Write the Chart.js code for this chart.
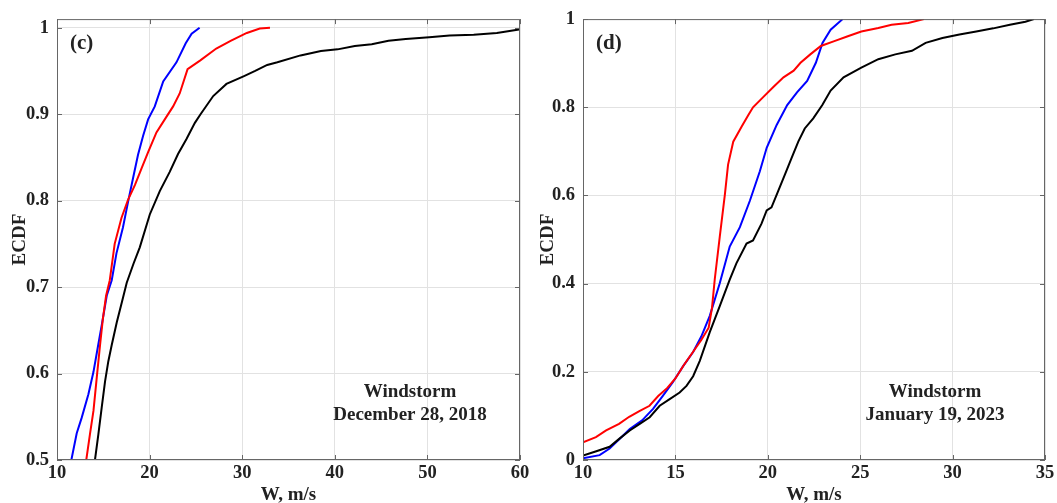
<!DOCTYPE html>
<html>
<head>
<meta charset="utf-8">
<script src="https://cdn.jsdelivr.net/npm/chart.js@4.4.0/dist/chart.umd.min.js"></script>
<style>
  body { margin: 0; background: #fff; }
  #wrap { position: relative; width: 1057px; height: 503px; overflow: hidden; }
  canvas { position: absolute; top: 0; }
  #chart-c { left: 0; }
  #chart-d { left: 527px; }
</style>
</head>
<body>
<div id="wrap">
  <canvas id="chart-c" width="560" height="503"></canvas>
  <canvas id="chart-d" width="530" height="503"></canvas>
</div>
<script>
// Panel (c): windstorm of December 28, 2018
const cTicksX = [10, 20, 30, 40, 50, 60];
const cTicksY = [0.5, 0.6, 0.7, 0.8, 0.9, 1];
const cBlueW = [11.55, 12.13, 12.67, 13.39, 13.94, 14.45, 14.85, 15.37, 15.91, 16.42, 17.12, 17.7, 18.21, 18.75, 19.3, 19.84, 20.56, 21.47, 22.9, 23.9, 24.54, 25.4];
const cBlueF = [0.5, 0.531, 0.549, 0.576, 0.602, 0.633, 0.657, 0.69, 0.708, 0.739, 0.769, 0.8, 0.826, 0.853, 0.875, 0.894, 0.909, 0.938, 0.96, 0.982, 0.993, 1.0];
const cRedW = [13.16, 13.56, 13.94, 14.29, 14.65, 14.95, 15.3, 15.7, 16.23, 16.96, 17.67, 18.41, 19.12, 19.84, 20.74, 21.64, 22.54, 23.25, 24.1, 25.44, 27.2, 28.8, 30.5, 31.9, 33.0];
const cRedF = [0.5, 0.53, 0.557, 0.595, 0.633, 0.663, 0.69, 0.708, 0.75, 0.78, 0.801, 0.818, 0.837, 0.856, 0.879, 0.894, 0.909, 0.924, 0.952, 0.962, 0.976, 0.985, 0.994, 0.999, 1.0];
const cBlackW = [14.1, 14.47, 14.83, 15.19, 15.54, 15.91, 16.45, 16.99, 17.53, 18.26, 18.94, 20.02, 21.1, 22.16, 23.07, 23.97, 24.89, 25.5, 26.87, 28.3, 30.2, 31.4, 32.7, 33.8, 36.3, 38.5, 40.3, 42.16, 43.99, 45.8, 47.66, 50.2, 52.4, 55, 57.5, 59.9];
const cBlackF = [0.5, 0.53, 0.561, 0.591, 0.614, 0.633, 0.659, 0.682, 0.705, 0.727, 0.746, 0.784, 0.811, 0.833, 0.854, 0.871, 0.89, 0.9, 0.921, 0.935, 0.944, 0.95, 0.957, 0.96, 0.968, 0.973, 0.975, 0.979, 0.981, 0.985, 0.987, 0.989, 0.991, 0.992, 0.994, 0.998];

// Panel (d): windstorm of January 19, 2023
const dTicksX = [10, 15, 20, 25, 30, 35];
const dTicksY = [0, 0.2, 0.4, 0.6, 0.8, 1];
const dRedW = [10, 10.7, 11.25, 11.95, 12.5, 13.05, 13.6, 14.07, 14.55, 15.0, 15.45, 15.95, 16.4, 16.8, 16.98, 17.13, 17.4, 17.68, 17.85, 18.13, 18.58, 18.94, 19.2, 19.75, 20.3, 20.85, 21.4, 21.77, 22.3, 22.87, 23.6, 24.33, 25.06, 25.98, 26.7, 27.6, 28.45];
const dRedF = [0.04, 0.052, 0.067, 0.082, 0.098, 0.111, 0.123, 0.145, 0.163, 0.185, 0.215, 0.245, 0.272, 0.3, 0.345, 0.41, 0.506, 0.603, 0.67, 0.722, 0.756, 0.782, 0.8, 0.823, 0.846, 0.868, 0.883, 0.901, 0.92, 0.939, 0.95, 0.961, 0.972, 0.98, 0.987, 0.991, 1.0];
const dBlueW = [10, 10.9, 11.44, 11.99, 12.53, 13.2, 13.79, 14.33, 14.87, 15.42, 15.96, 16.4, 16.86, 17.4, 17.94, 18.49, 19.03, 19.57, 19.94, 20.48, 21.05, 21.58, 22.13, 22.6, 22.96, 23.4, 24.05];
const dBlueF = [0.004, 0.011, 0.026, 0.048, 0.07, 0.09, 0.116, 0.146, 0.177, 0.213, 0.245, 0.28, 0.327, 0.401, 0.484, 0.528, 0.588, 0.655, 0.708, 0.76, 0.805, 0.834, 0.86, 0.901, 0.946, 0.976, 1.0];
const dBlackW = [10, 10.72, 11.44, 11.99, 12.53, 13.07, 13.61, 14.15, 14.69, 15.23, 15.6, 15.96, 16.32, 16.86, 17.4, 17.94, 18.3, 18.85, 19.2, 19.66, 19.94, 20.2, 20.56, 20.93, 21.29, 21.65, 22.0, 22.46, 22.95, 23.4, 24.1, 25.06, 25.98, 26.9, 27.8, 28.54, 29.45, 30.37, 31.28, 32.2, 33.1, 33.94, 34.4];
const dBlackF = [0.01, 0.02, 0.03, 0.049, 0.067, 0.082, 0.097, 0.123, 0.138, 0.153, 0.168, 0.19, 0.225, 0.29, 0.349, 0.409, 0.446, 0.491, 0.498, 0.536, 0.566, 0.573, 0.61, 0.648, 0.685, 0.722, 0.752, 0.775, 0.805, 0.838, 0.868, 0.89, 0.909, 0.92, 0.928, 0.946, 0.957, 0.965, 0.972, 0.979, 0.987, 0.994, 1.0];

const SERIF = '"Liberation Serif", "Times New Roman", serif';
const TXT = '#222';

function pts(w, f) {
  return w.map((x, i) => ({ x: x, y: f[i] }));
}
function line(w, f, color) {
  return { data: pts(w, f), borderColor: color, borderWidth: 2, pointRadius: 0, tension: 0, fill: false };
}

// box, inward tick marks, panel letter and note (MATLAB look)
const framePlugin = {
  id: 'frame',
  afterDatasetsDraw(chart, args, opts) {
    const { ctx, chartArea: a, scales } = chart;
    ctx.save();
    ctx.strokeStyle = '#666';
    ctx.lineWidth = 1;
    ctx.strokeRect(a.left + 0.5, a.top + 0.5, a.right - a.left - 1, a.bottom - a.top - 1);
    ctx.beginPath();
    scales.x.ticks.forEach(t => {
      const x = Math.round(scales.x.getPixelForValue(t.value)) + 0.5;
      ctx.moveTo(x, a.bottom); ctx.lineTo(x, a.bottom - 5);
      ctx.moveTo(x, a.top); ctx.lineTo(x, a.top + 5);
    });
    scales.y.ticks.forEach(t => {
      const y = Math.round(scales.y.getPixelForValue(t.value)) + 0.5;
      ctx.moveTo(a.left, y); ctx.lineTo(a.left + 5, y);
      ctx.moveTo(a.right, y); ctx.lineTo(a.right - 5, y);
    });
    ctx.stroke();
    ctx.fillStyle = TXT;
    ctx.textBaseline = 'middle';
    ctx.textAlign = 'left';
    ctx.font = 'bold 21px ' + SERIF;
    ctx.fillText(opts.letter, a.left + 13, a.top + 24);
    ctx.textAlign = 'center';
    ctx.font = 'bold 19px ' + SERIF;
    ctx.fillText(opts.note[0], a.right - opts.noteDx, 392);
    ctx.fillText(opts.note[1], a.right - opts.noteDx, 415);
    ctx.restore();
  }
};

function makeChart(id, datasets, xr, yr, ticksX, ticksY, yw, padRight, titlePad, frame) {
  return new Chart(document.getElementById(id), {
    type: 'line',
    data: { datasets: datasets },
    plugins: [framePlugin],
    options: {
      responsive: false,
      animation: false,
      devicePixelRatio: 1,
      layout: { padding: { top: 13, right: padRight, left: 0, bottom: 0 } },
      plugins: { legend: { display: false }, tooltip: { enabled: false }, frame: frame },
      scales: {
        x: {
          type: 'linear', min: xr[0], max: xr[1],
          afterBuildTicks: s => { s.ticks = ticksX.map(v => ({ value: v })); },
          afterFit: s => { s.height = 43; },
          grid: { color: '#e2e2e2', drawTicks: false },
          border: { display: false },
          ticks: { padding: 2, color: TXT, font: { family: SERIF, size: 18.5, weight: 'bold' }, maxRotation: 0 },
          title: { display: true, text: 'W, m/s', color: TXT, padding: 0, font: { family: SERIF, size: 19, weight: 'bold', lineHeight: 0.8 } }
        },
        y: {
          type: 'linear', min: yr[0], max: yr[1],
          afterBuildTicks: s => { s.ticks = ticksY.map(v => ({ value: v })); },
          afterFit: s => { s.width = yw; },
          grid: { color: '#e2e2e2', drawTicks: false },
          border: { display: false },
          ticks: { padding: 8, color: TXT, font: { family: SERIF, size: 18.5, weight: 'bold' }, callback: v => String(v) },
          title: { display: true, text: 'ECDF', color: TXT, padding: { top: titlePad, bottom: 0 }, font: { family: SERIF, size: 19, weight: 'bold' } }
        }
      }
    }
  });
}

makeChart('chart-c', [
  line(cBlackW, cBlackF, '#000000'),
  line(cRedW, cRedF, '#ff0000'),
  line(cBlueW, cBlueF, '#0000ff')
], [10, 60], [0.5, 1.01], cTicksX, cTicksY, 57, 40, 9,
  { letter: '(c)', note: ['Windstorm', 'December 28, 2018'], noteDx: 110 });

makeChart('chart-d', [
  line(dBlackW, dBlackF, '#000000'),
  line(dRedW, dRedF, '#ff0000'),
  line(dBlueW, dBlueF, '#0000ff')
], [10, 35], [0, 1], dTicksX, dTicksY, 56, 12, 10,
  { letter: '(d)', note: ['Windstorm', 'January 19, 2023'], noteDx: 110 });
</script>
</body>
</html>
